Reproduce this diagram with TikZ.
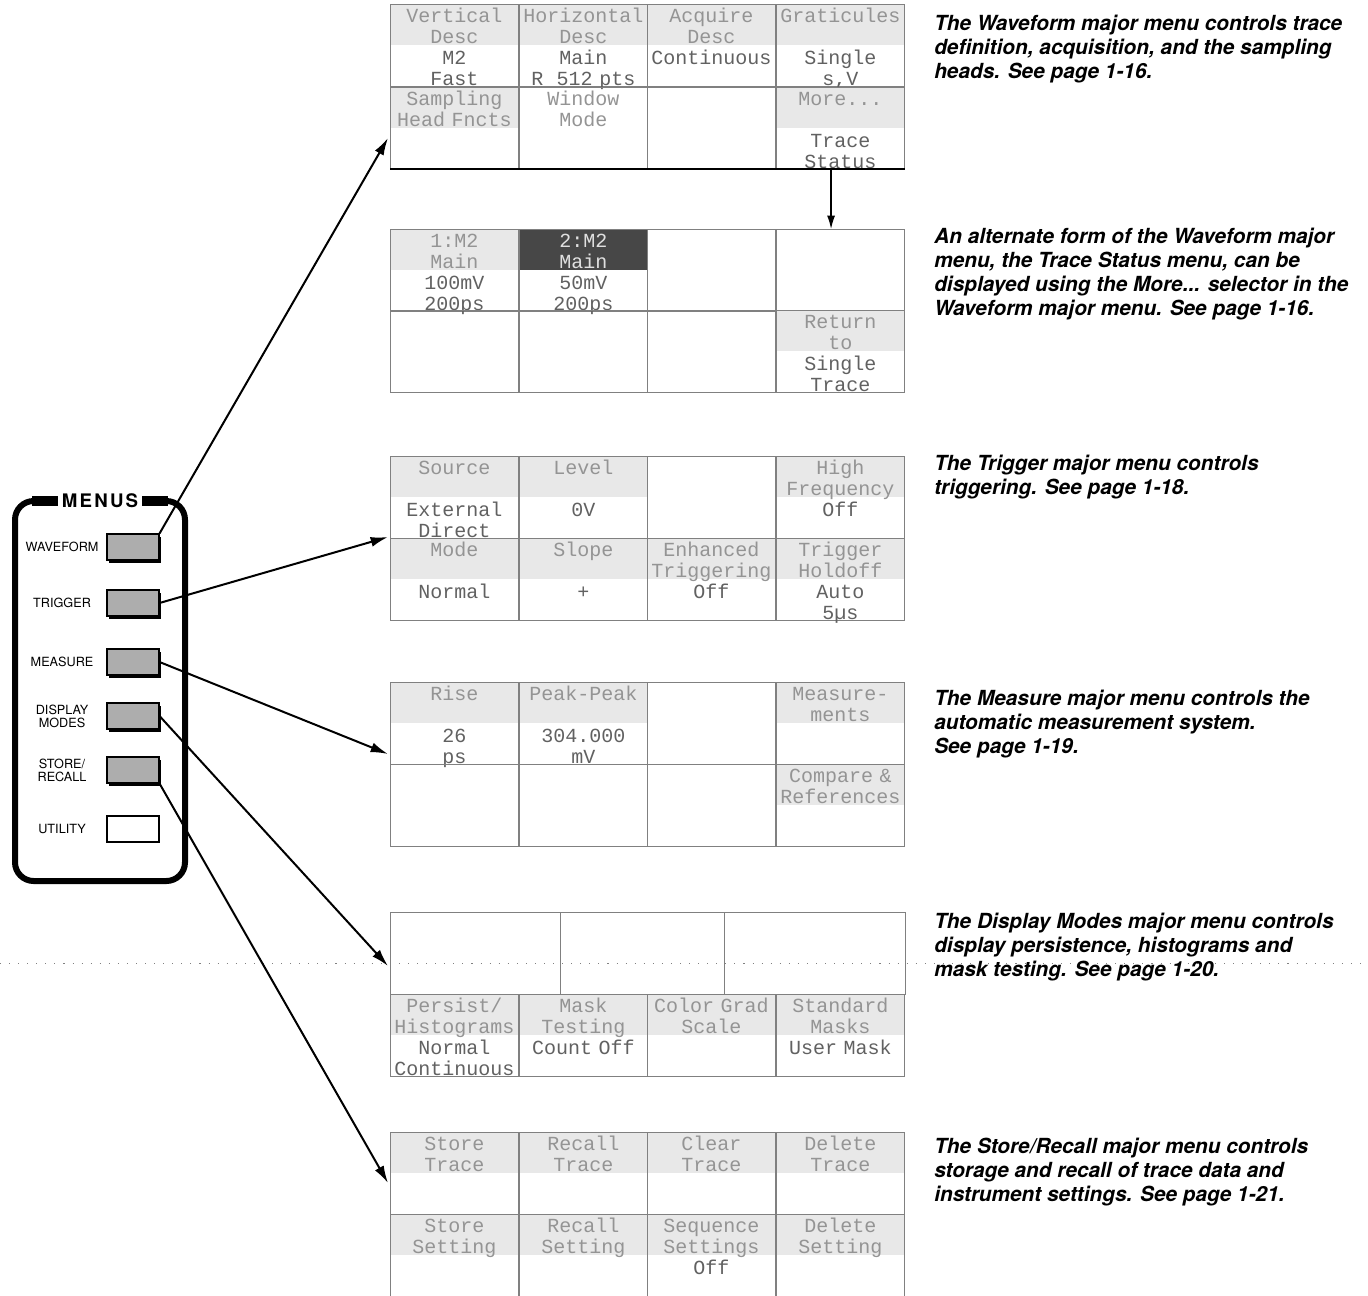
\documentclass[tikz,border=0pt]{standalone}
\usepackage{fontspec}
\newfontfamily\heros{TeX Gyre Heros}
\newfontfamily\menumono{Liberation Mono}
\usetikzlibrary{arrows.meta,shadows}

\definecolor{ttlgray}{gray}{0.58}
\definecolor{valgray}{gray}{0.38}
\definecolor{gridgray}{gray}{0.5}
\definecolor{stipple}{gray}{0.91}
\definecolor{btngray}{gray}{0.68}

\newcommand{\fourl}[4]{\rule{0pt}{13.5pt}\textcolor{ttlgray}{#1}\\\strut\textcolor{ttlgray}{#2}\\\strut\textcolor{valgray}{#3}\\\smash{\textcolor{valgray}{#4}}}
\newcommand{\fourw}[4]{\rule{0pt}{13.5pt}\textcolor{black!12}{#1}\\\strut\textcolor{black!12}{#2}\\\strut\textcolor{valgray}{#3}\\\smash{\textcolor{valgray}{#4}}}

\tikzset{
  cell/.style={draw=gridgray, line width=0.6pt, anchor=north west, inner sep=0pt, outer sep=0pt,
    minimum width=96.6pt, minimum height=61.5pt, text width=96pt, align=center,
    font=\menumono\fontsize{15}{15.75}\selectfont},
  titled/.style={path picture={\fill[stipple] (path picture bounding box.north west) rectangle (path picture bounding box.east);}},
  hilite/.style={path picture={\fill[black!72] (path picture bounding box.north west) rectangle (path picture bounding box.east);}},
  button/.style={draw, line width=0.8pt, fill=btngray, minimum width=39pt, minimum height=19.5pt, inner sep=0pt,
    drop shadow={shadow xshift=1.2pt, shadow yshift=-2.2pt, fill=black, opacity=1}},
  utilbutton/.style={draw, line width=1.6pt, fill=white, minimum width=39pt, minimum height=19pt, inner sep=0pt},
  btnlabel/.style={font=\heros\fontsize{9.5}{9.8}\selectfont, align=center, inner sep=0pt},
  note/.style={anchor=north west, align=left, inner sep=0pt, font=\heros\fontsize{15.6}{18}\selectfont\bfseries\itshape},
  menuarrow/.style={line width=1.5pt, -{Latex[length=13pt, width=7.5pt]}},
}

\begin{document}
\begin{tikzpicture}[x=0.75pt, y=-0.75pt]
    \useasboundingbox (0,0) rectangle (1368,1296);

    \node[cell, titled] (wf11) at (390,4) {\fourl{Vertical}{Desc}{M2}{Fast}};
    \node[cell, titled] (wf12) at (519,4) {\fourl{Horizontal}{Desc}{Main}{R\ \ 512 pts}};
    \node[cell, titled] (wf13) at (647,4) {\fourl{Acquire}{Desc}{Continuous}{}};
    \node[cell, titled] (wf14) at (776,4) {\fourl{Graticules}{}{Single}{s,V}};
    \node[cell, titled] (wf21) at (390,87) {\fourl{Sampling}{Head Fncts}{}{}};
    \node[cell] (wf22) at (519,87) {\fourl{Window}{Mode}{}{}};
    \node[cell] (wf23) at (647,87) {};
    \node[cell, titled] (wf24) at (776,87) {\fourl{More...}{}{Trace}{Status}};
    \draw[line width=1.3pt] (wf21.south west) -- (wf24.south east);

    \node[cell, titled] (ts11) at (390,229) {\fourl{1:M2}{Main}{100mV}{200ps}};
    \node[cell, hilite] (ts12) at (519,229) {\fourw{2:M2}{Main}{50mV}{200ps}};
    \node[cell] (ts13) at (647,229) {};
    \node[cell] (ts14) at (776,229) {};
    \node[cell] (ts21) at (390,310) {};
    \node[cell] (ts22) at (519,310) {};
    \node[cell] (ts23) at (647,310) {};
    \node[cell, titled] (ts24) at (776,310) {\fourl{Return}{to}{Single}{Trace}};
    \draw[line width=1pt, -{Latex[length=10pt, width=6pt]}] ([xshift=-7pt]wf24.south) -- ([xshift=-7pt]ts14.north);

    \node[cell, titled] (tr11) at (390,456) {\fourl{Source}{}{External}{Direct}};
    \node[cell, titled] (tr12) at (519,456) {\fourl{Level}{}{0V}{}};
    \node[cell] (tr13) at (647,456) {};
    \node[cell, titled] (tr14) at (776,456) {\fourl{High}{Frequency}{Off}{}};
    \node[cell, titled] (tr21) at (390,538) {\fourl{Mode}{}{Normal}{}};
    \node[cell, titled] (tr22) at (519,538) {\fourl{Slope}{}{+}{}};
    \node[cell, titled] (tr23) at (647,538) {\fourl{Enhanced}{Triggering}{Off}{}};
    \node[cell, titled] (tr24) at (776,538) {\fourl{Trigger}{Holdoff}{Auto}{5µs}};

    \node[cell, titled] (ms11) at (390,682) {\fourl{Rise}{}{26}{ps}};
    \node[cell, titled] (ms12) at (519,682) {\fourl{Peak-Peak}{}{304.000}{mV}};
    \node[cell] (ms13) at (647,682) {};
    \node[cell, titled] (ms14) at (776,682) {\fourl{Measure-}{ments}{}{}};
    \node[cell] (ms21) at (390,764) {};
    \node[cell] (ms22) at (519,764) {};
    \node[cell] (ms23) at (647,764) {};
    \node[cell, titled] (ms24) at (776,764) {\fourl{Compare \&}{References}{}{}};

    \node[cell, minimum width=127.5pt] (dm11) at (390,912) {};
    \node[cell, minimum width=123pt] (dm12) at (560,912) {};
    \node[cell, minimum width=135.8pt] (dm13) at (724,912) {};
    \node[cell, titled] (dm21) at (390,994) {\fourl{Persist/}{Histograms}{Normal}{Continuous}};
    \node[cell, titled] (dm22) at (519,994) {\fourl{Mask}{Testing}{Count Off}{}};
    \node[cell, titled] (dm23) at (647,994) {\fourl{Color Grad}{Scale}{}{}};
    \node[cell, titled] (dm24) at (776,994) {\fourl{Standard}{Masks}{User Mask}{}};
    \draw[gridgray, line width=0.7pt, dash pattern=on 0.8pt off 6pt] (0,963) -- (1368,963);

    \node[cell, titled] (sr11) at (390,1132) {\fourl{Store}{Trace}{}{}};
    \node[cell, titled] (sr12) at (519,1132) {\fourl{Recall}{Trace}{}{}};
    \node[cell, titled] (sr13) at (647,1132) {\fourl{Clear}{Trace}{}{}};
    \node[cell, titled] (sr14) at (776,1132) {\fourl{Delete}{Trace}{}{}};
    \node[cell, titled] (sr21) at (390,1214) {\fourl{Store}{Setting}{}{}};
    \node[cell, titled] (sr22) at (519,1214) {\fourl{Recall}{Setting}{}{}};
    \node[cell, titled] (sr23) at (647,1214) {\fourl{Sequence}{Settings}{Off}{}};
    \node[cell, titled] (sr24) at (776,1214) {\fourl{Delete}{Setting}{}{}};

    \node[draw, line width=4.5pt, outer sep=0pt, rounded corners=14pt, minimum width=127.5pt, minimum height=285pt] (menus) at (100,691) {};
    \draw[line width=7pt] ([xshift=13pt]menus.north west) -- ([xshift=-13pt]menus.north east);
    \node[fill=white, inner xsep=2.5pt, inner ysep=1pt, font=\heros\fontsize{14}{14}\selectfont\bfseries\addfontfeature{LetterSpace=12}] (menustitle) at (menus.north) {MENUS};

    \node[button] (wfbtn) at (133,547) {};
    \node[button] (trbtn) at (133,603) {};
    \node[button] (msbtn) at (133,662) {};
    \node[button] (dmbtn) at (133,716) {};
    \node[button] (srbtn) at (133,770) {};
    \node[utilbutton] (utbtn) at (133,829) {};

    \node[btnlabel, left of=wfbtn, xshift=-0.87cm] (wflabel) {WAVEFORM};
    \node[btnlabel, left of=trbtn, xshift=-0.87cm] (trlabel) {TRIGGER};
    \node[btnlabel, left of=msbtn, xshift=-0.87cm] (mslabel) {MEASURE};
    \node[btnlabel, left of=dmbtn, xshift=-0.87cm] (dmlabel) {DISPLAY\\MODES};
    \node[btnlabel, left of=srbtn, xshift=-0.87cm] (srlabel) {STORE/\\RECALL};
    \node[btnlabel, left of=utbtn, xshift=-0.87cm] (utlabel) {UTILITY};

    \coordinate (wftip) at (388,138);
    \coordinate (trtip) at (388,537);
    \coordinate (mstip) at (388,754);
    \coordinate (dmtip) at (388,966);
    \coordinate (srtip) at (388,1183);

    \draw[menuarrow] (wfbtn.north east) -- (wftip);
    \draw[menuarrow] (trbtn.east) -- (trtip);
    \draw[menuarrow] (msbtn.east) -- (mstip);
    \draw[menuarrow] (dmbtn.east) -- (dmtip);
    \draw[menuarrow] (srbtn.south east) -- (srtip);

    \node[note] (wfnote) at (934,15) {The Waveform major menu controls trace\\definition, acquisition, and the sampling\\heads. See page 1-16.};
    \node[note] (tsnote) at (934,228) {An alternate form of the Waveform major\\menu, the Trace Status menu, can be\\displayed using the More... selector in the\\Waveform major menu. See page 1-16.};
    \node[note] (trnote) at (934,455) {The Trigger major menu controls\\triggering. See page 1-18.};
    \node[note] (msnote) at (934,690) {The Measure major menu controls the\\automatic measurement system.\\See page 1-19.};
    \node[note] (dmnote) at (934,913) {The Display Modes major menu controls\\display persistence, histograms and\\mask testing. See page 1-20.};
    \node[note] (srnote) at (934,1138) {The Store/Recall major menu controls\\storage and recall of trace data and\\instrument settings. See page 1-21.};
\end{tikzpicture}
\end{document}
